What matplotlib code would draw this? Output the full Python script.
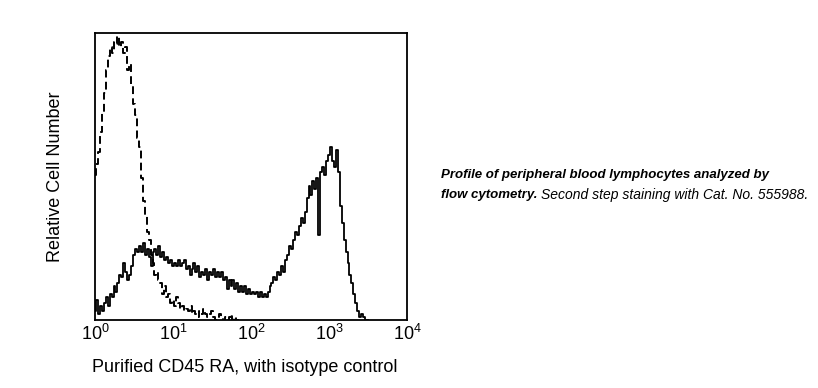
import matplotlib
matplotlib.use("Agg")
import matplotlib.pyplot as plt
import numpy as np

plt.rcParams['font.family'] = ['Liberation Sans', 'DejaVu Sans']

# Isotype control (dashed): log10 intensity start/step and relative counts (%)
iso_start, iso_step = 0.0, 0.025
iso_counts = [51, 55, 59, 66, 73, 80, 88, 93, 96, 94, 98, 97, 100, 96, 98, 94, 96, 88, 90, 83,
              76, 72, 64, 61, 50, 42, 37, 31, 28, 23, 20, 16, 17, 14, 13, 9, 12, 8, 9, 6,
              7, 5, 8, 6, 4, 5, 3, 4, 3, 5, 2, 3, 2, 1, 3, 2, 4, 2, 1, 2,
              3, 1, 0, 1, 2, 1, 0, 1, 0, 1, 2, 0, 1, 0, 0]

# CD45 RA stained (solid)
cd_start, cd_step = 0.0, 0.025
cd_counts = [3, 7, 2, 5, 3, 6, 8, 5, 9, 8, 12, 10, 13, 16, 15, 20, 17, 14, 16, 19,
             23, 25, 24, 26, 24, 27, 23, 25, 22, 19, 24, 25, 23, 26, 22, 24, 21, 22, 20, 21,
             19, 20, 19, 21, 19, 20, 21, 18, 19, 16, 18, 20, 17, 19, 15, 17, 16, 18, 14, 17,
             16, 18, 15, 17, 15, 17, 14, 15, 11, 14, 12, 14, 11, 13, 10, 12, 10, 12, 9, 11,
             9, 10, 9, 10, 8, 10, 8, 9, 8, 10, 12, 13, 15, 14, 17, 16, 19, 17, 21, 23,
             26, 25, 28, 31, 30, 33, 36, 34, 38, 43, 47, 44, 49, 46, 50, 30, 52, 54, 51, 56,
             58, 61, 56, 54, 60, 52, 40, 34, 28, 24, 20, 16, 13, 9, 6, 3, 1, 2, 1, 0, 0]

tick_vals = [1, 10, 100, 1000, 10000]
tick_labels = [r'$\mathdefault{10^{0}}$', r'$\mathdefault{10^{1}}$', r'$\mathdefault{10^{2}}$',
               r'$\mathdefault{10^{3}}$', r'$\mathdefault{10^{4}}$']

fig = plt.figure(figsize=(8.18, 3.88), dpi=100)
ax = fig.add_axes([95/818, 68/388, 312/818, 287/388])

iso_x = 10 ** (iso_start + iso_step * np.arange(len(iso_counts)))
cd_x = 10 ** (cd_start + cd_step * np.arange(len(cd_counts)))

ax.plot(iso_x, iso_counts, color='black', lw=1.4, ls=(0, (4, 2.2)), drawstyle='steps-mid')
ax.plot(cd_x, cd_counts, color='black', lw=1.3, drawstyle='steps-mid')

ax.set_xscale('log')
ax.set_xlim(1, 10000)
ax.set_ylim(0, 101)
ax.set_xticks(tick_vals)
ax.set_xticklabels(tick_labels)
ax.minorticks_off()
ax.set_yticks([])
ax.tick_params(axis='x', length=0, pad=3, labelsize=13)
for s in ax.spines.values():
    s.set_linewidth(1.3)

ax.set_xlabel('Purified CD45 RA, with isotype control', fontsize=13)
ax.xaxis.set_label_coords(0.481, -0.135)
ax.set_ylabel('Relative Cell Number', fontsize=13, labelpad=22)

fig.text(441/818, 1 - 175/388, 'Profile of peripheral blood lymphocytes analyzed by',
         fontsize=9.5, fontweight='bold', fontstyle='italic', va='center', ha='left')
t1 = fig.text(441/818, 1 - 195/388, 'flow cytometry.', fontsize=9.5, fontweight='bold',
              fontstyle='italic', va='center', ha='left')
fig.canvas.draw()
bb = t1.get_window_extent(renderer=fig.canvas.get_renderer())
fig.text((bb.x1 + 4) / 818, 1 - 195/388, 'Second step staining with Cat. No. 555988.',
         fontsize=10, fontstyle='italic', va='center', ha='left')

fig.savefig('out.png', dpi=100)
